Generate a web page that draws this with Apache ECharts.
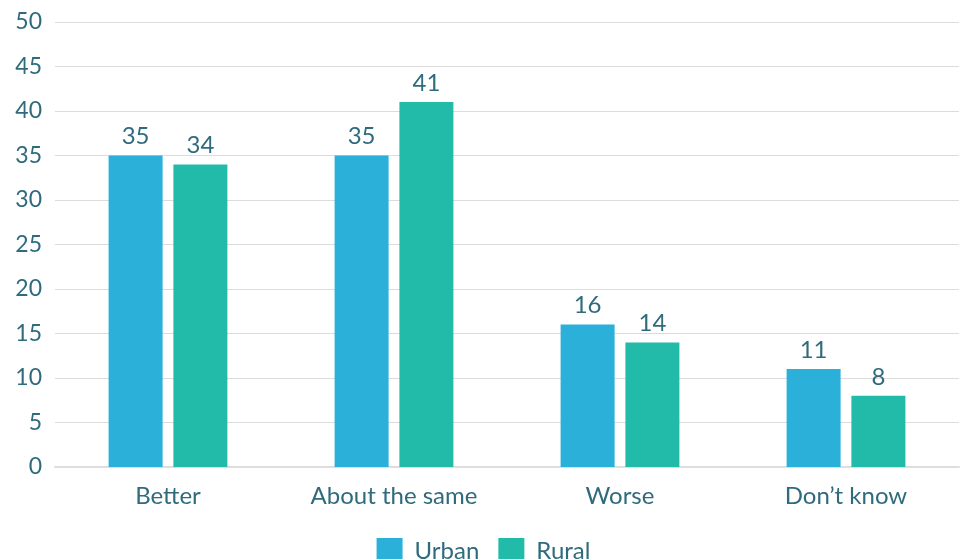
<!DOCTYPE html>
<html><head><meta charset="utf-8">
<script src="https://cdn.jsdelivr.net/npm/echarts@6/dist/echarts.min.js"></script>
<style>html,body{margin:0;padding:0;background:#fff}#c{width:967px;height:559px}</style>
</head><body><div id="c"></div>
<script>
const categories = ["Better", "About the same", "Worse", "Don\u2019t know"];
const urban = [35, 35, 16, 11];
const rural = [34, 41, 14, 8];
const yTicks = [0, 5, 10, 15, 20, 25, 30, 35, 40, 45, 50];

const textColor = '#2f6b7c';
const font = 'Lato';
const chart = echarts.init(document.getElementById('c'), null, {renderer: 'canvas'});
chart.setOption({
  animation: false,
  textStyle: {fontFamily: font},
  grid: {left: 55, right: 8, top: 22, bottom: 92, containLabel: false},
  legend: {
    data: ['Urban', 'Rural'], left: 'center', top: 533,
    itemWidth: 26, itemHeight: 26, itemGap: 19, icon: 'rect',
    textStyle: {color: textColor, fontSize: 24, fontFamily: font, padding: [0, 0, 0, 7]}
  },
  xAxis: {
    type: 'category', data: categories,
    axisLine: {lineStyle: {color: '#dedede', width: 2}},
    axisTick: {show: false},
    axisLabel: {color: textColor, fontSize: 24, fontFamily: font, margin: 17}
  },
  yAxis: {
    type: 'value', min: yTicks[0], max: yTicks[yTicks.length - 1], interval: 5,
    axisLine: {show: false}, axisTick: {show: false},
    axisLabel: {color: textColor, fontSize: 23, fontFamily: font, margin: 13},
    splitLine: {lineStyle: {color: '#dcdcdc', width: 1}}
  },
  series: [
    {name: 'Urban', type: 'bar', data: urban, barWidth: 54, barGap: '20%',
     itemStyle: {color: '#2bb0da'},
     label: {show: true, position: 'top', distance: 7, color: textColor, fontSize: 24, fontFamily: font}},
    {name: 'Rural', type: 'bar', data: rural, barWidth: 54, barGap: '20%',
     itemStyle: {color: '#22bbaa'},
     label: {show: true, position: 'top', distance: 7, color: textColor, fontSize: 24, fontFamily: font}}
  ]
});
</script></body></html>
